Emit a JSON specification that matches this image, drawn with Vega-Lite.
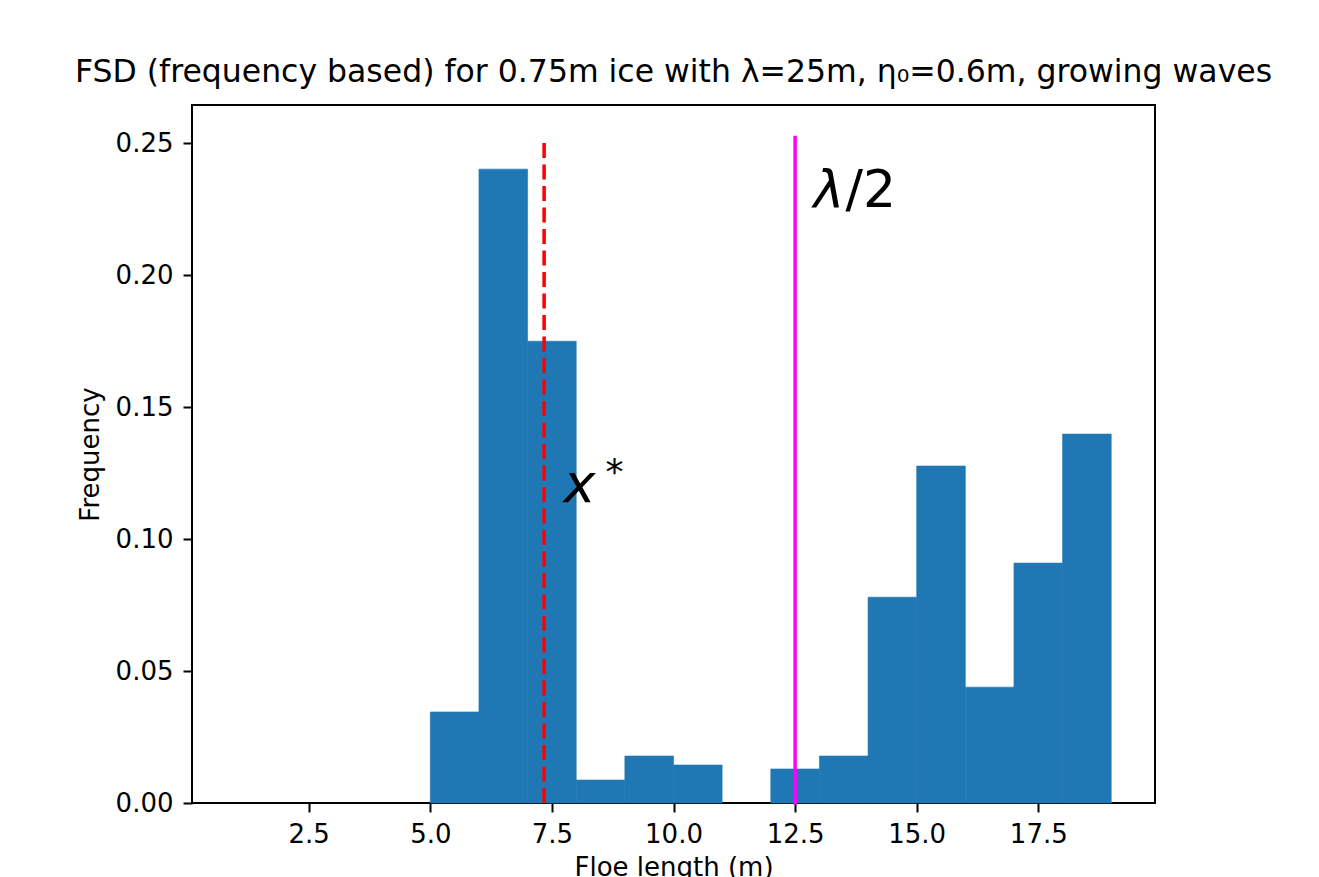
{
  "$schema": "https://vega.github.io/schema/vega-lite/v6.json",
  "autosize": {"type": "none"},
  "padding": {"left": 192, "top": 105, "right": 164, "bottom": 74},
  "width": 963,
  "height": 698,
  "background": "white",
  "title": {
    "text": "FSD (frequency based) for 0.75m ice with λ=25m, η₀=0.6m, growing waves",
    "font": "DejaVu Sans",
    "fontSize": 31.5,
    "fontWeight": "normal",
    "color": "black",
    "anchor": "middle",
    "frame": "group",
    "baseline": "alphabetic",
    "offset": -8
  },
  "datasets": {
    "bins": [
      {"length": 1, "length_end": 2, "frequency": 0},
      {"length": 2, "length_end": 3, "frequency": 0},
      {"length": 3, "length_end": 4, "frequency": 0},
      {"length": 4, "length_end": 5, "frequency": 0},
      {"length": 5, "length_end": 6, "frequency": 0.0345},
      {"length": 6, "length_end": 7, "frequency": 0.2402},
      {"length": 7, "length_end": 8, "frequency": 0.175},
      {"length": 8, "length_end": 9, "frequency": 0.0087},
      {"length": 9, "length_end": 10, "frequency": 0.0178},
      {"length": 10, "length_end": 11, "frequency": 0.0144},
      {"length": 11, "length_end": 12, "frequency": 0},
      {"length": 12, "length_end": 13, "frequency": 0.0129},
      {"length": 13, "length_end": 14, "frequency": 0.0178},
      {"length": 14, "length_end": 15, "frequency": 0.078},
      {"length": 15, "length_end": 16, "frequency": 0.1277},
      {"length": 16, "length_end": 17, "frequency": 0.0439},
      {"length": 17, "length_end": 18, "frequency": 0.0909},
      {"length": 18, "length_end": 19, "frequency": 0.1398}
    ],
    "lines": [
      {"name": "x*", "length": 7.34, "frequency": 0, "frequency_end": 0.2522},
      {"name": "λ/2", "length": 12.5, "frequency": 0, "frequency_end": 0.2522}
    ],
    "notes": [
      {"name": "λ/2", "length": 12.88, "frequency": 0.2258},
      {"name": "x*", "length": 7.74, "frequency": 0.1141}
    ]
  },
  "encoding": {
    "x": {
      "field": "length",
      "type": "quantitative",
      "scale": {"domain": [0.1, 19.9], "nice": false, "zero": false, "padding": 0},
      "axis": {
        "title": "Floe length (m)",
        "values": [2.5, 5, 7.5, 10, 12.5, 15, 17.5],
        "format": ".1f",
        "labelPadding": 9,
        "titlePadding": 7
      }
    },
    "y": {
      "field": "frequency",
      "type": "quantitative",
      "scale": {"domain": [0, 0.2645], "nice": false, "zero": false, "padding": 0},
      "axis": {
        "title": "Frequency",
        "values": [0, 0.05, 0.1, 0.15, 0.2, 0.25],
        "format": ".2f",
        "labelPadding": 10,
        "titlePadding": 12
      }
    }
  },
  "layer": [
    {
      "data": {"name": "bins"},
      "transform": [{"filter": "datum.frequency > 0"}],
      "mark": {"type": "bar", "color": "#1f77b4", "stroke": "#1f77b4", "strokeWidth": 0.6},
      "encoding": {"x2": {"field": "length_end"}, "y2": {"datum": 0}}
    },
    {
      "data": {"name": "lines"},
      "transform": [{"filter": "datum.name === 'x*'"}],
      "mark": {"type": "rule", "color": "#ff0000", "strokeWidth": 3.5, "strokeDash": [15, 6.5]},
      "encoding": {"y2": {"field": "frequency_end"}}
    },
    {
      "data": {"name": "lines"},
      "transform": [{"filter": "datum.name === 'λ/2'"}],
      "mark": {"type": "rule", "color": "#ff00ff", "strokeWidth": 3.5, "strokeCap": "square"},
      "encoding": {"y2": {"field": "frequency_end"}}
    },
    {
      "data": {"name": "notes"},
      "transform": [{"filter": "datum.name === 'λ/2'"}],
      "mark": {"type": "text", "text": "λ", "font": "DejaVu Sans", "fontStyle": "italic", "fontSize": 52, "align": "left", "baseline": "alphabetic", "color": "black"}
    },
    {
      "data": {"name": "notes"},
      "transform": [{"filter": "datum.name === 'λ/2'"}],
      "mark": {"type": "text", "text": "/2", "font": "DejaVu Sans", "fontSize": 52, "align": "left", "baseline": "alphabetic", "dx": 32, "color": "black"}
    },
    {
      "data": {"name": "notes"},
      "transform": [{"filter": "datum.name === 'x*'"}],
      "mark": {"type": "text", "text": "x", "font": "DejaVu Sans", "fontStyle": "italic", "fontSize": 54, "align": "left", "baseline": "alphabetic", "color": "black"}
    },
    {
      "data": {"name": "notes"},
      "transform": [{"filter": "datum.name === 'x*'"}],
      "mark": {"type": "text", "text": "*", "font": "DejaVu Sans", "fontSize": 36, "align": "left", "baseline": "alphabetic", "dx": 42, "dy": -18, "color": "black"}
    }
  ],
  "config": {
    "scale": {"continuousPadding": 0},
    "view": {"stroke": "black", "strokeWidth": 2},
    "axis": {
      "domain": false,
      "grid": false,
      "ticks": true,
      "tickColor": "black",
      "tickWidth": 2,
      "tickSize": 9,
      "labelFont": "DejaVu Sans",
      "labelFontSize": 26,
      "labelColor": "black",
      "labelOverlap": false,
      "labelFlush": false,
      "titleFont": "DejaVu Sans",
      "titleFontSize": 26,
      "titleFontWeight": "normal",
      "titleColor": "black"
    }
  }
}
